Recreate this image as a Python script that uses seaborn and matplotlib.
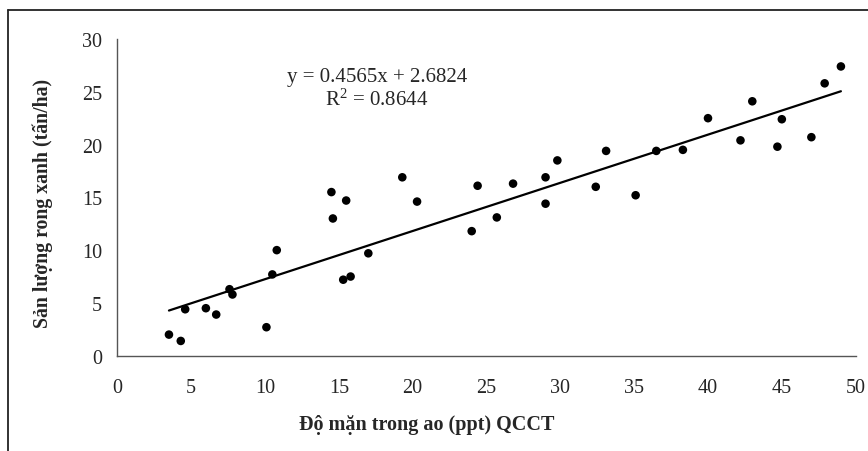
import numpy as np
import pandas as pd
import matplotlib
matplotlib.use("Agg")
import matplotlib.pyplot as plt
import seaborn as sns
from matplotlib.lines import Line2D

# Salinity in pond (ppt) and green seaweed yield (tonnes/ha)
salinity = [3.5, 4.3, 4.6, 6.0, 6.7, 7.6, 7.8, 10.1, 10.5, 10.8,
            15.3, 15.8, 17.0, 14.5, 15.5, 14.6, 19.3, 20.3, 24.0,
            24.4, 25.7, 26.8, 29.0, 29.0, 29.8, 32.4, 33.1, 35.1,
            36.5, 38.3, 40.0, 42.2, 43.0, 44.7, 45.0, 47.0, 47.9, 49.0]
yield_tha = [2.0, 1.4, 4.4, 4.5, 3.9, 6.3, 5.8, 2.7, 7.7, 10.0,
             7.2, 7.5, 9.7, 15.5, 14.7, 13.0, 16.9, 14.6, 11.8,
             16.1, 13.1, 16.3, 16.9, 14.4, 18.5, 16.0, 19.4, 15.2,
             19.4, 19.5, 22.5, 20.4, 24.1, 19.8, 22.4, 20.7, 25.8, 27.4]

# Linear trend line
slope = 0.4565
intercept = 2.6824
r_squared = 0.8644

x_ticks = list(range(0, 51, 5))
y_ticks = list(range(0, 31, 5))

df = pd.DataFrame({"x": salinity, "y": yield_tha})
x_fit = np.array([min(salinity), max(salinity)])
fit = pd.DataFrame({"x": x_fit, "y": slope * x_fit + intercept})

sns.set_style("white")
plt.rcParams["font.family"] = ["Liberation Serif", "DejaVu Serif"]
plt.rcParams["mathtext.fontset"] = "custom"
plt.rcParams["mathtext.rm"] = "Liberation Serif"
plt.rcParams["mathtext.it"] = "Liberation Serif:italic"

W, H = 868, 452
fig = plt.figure(figsize=(W / 100, H / 100), dpi=100)
ax = fig.add_axes([0.1351, 0.2108, 0.8507, 0.7007])

sns.scatterplot(data=df, x="x", y="y", ax=ax, color="black", s=38,
                edgecolor="none", zorder=3)
sns.lineplot(data=fit, x="x", y="y", ax=ax, color="black", linewidth=1.6,
             zorder=2)

ax.set_xlim(0, 50)
ax.set_ylim(0, 30)
ax.set_xticks(x_ticks)
ax.set_yticks(y_ticks)
ax.tick_params(axis="both", direction="out", length=5, width=1,
               color="#555555", labelsize=14.5)
ax.tick_params(axis="x", pad=11)
ax.tick_params(axis="y", pad=6)
for side in ("top", "right"):
    ax.spines[side].set_visible(False)
for side in ("left", "bottom"):
    ax.spines[side].set_color("#555555")
    ax.spines[side].set_linewidth(1.0)

ax.set_xlabel("")
ax.set_ylabel("Sản lượng rong xanh (tấn/ha)", fontsize=14.2,
              fontweight="bold", va="center")
ax.yaxis.set_label_coords(43 / W, 1 - 203 / H, transform=fig.transFigure)
fig.text(427 / W, 1 - 425 / H, "Độ mặn trong ao (ppt) QCCT",
         ha="center", va="center", fontsize=14.5, fontweight="bold")

ax.text(377 / W, 1 - 78 / H, f"y = {slope}x + {intercept}",
        transform=fig.transFigure, ha="center", va="center", fontsize=15)
ax.text(377 / W, 1 - 100 / H, f"R$^{{2}}$ = {r_squared}",
        transform=fig.transFigure, ha="center", va="center", fontsize=15)

# Outer frame: left and top edges
fig.add_artist(Line2D([8 / W, 8 / W], [0, 1 - 10.5 / H],
                      transform=fig.transFigure, color="#222222", lw=1.3))
fig.add_artist(Line2D([8 / W, 1], [1 - 10.5 / H, 1 - 10.5 / H],
                      transform=fig.transFigure, color="#222222", lw=1.3))

fig.savefig("out.png", dpi=100)
